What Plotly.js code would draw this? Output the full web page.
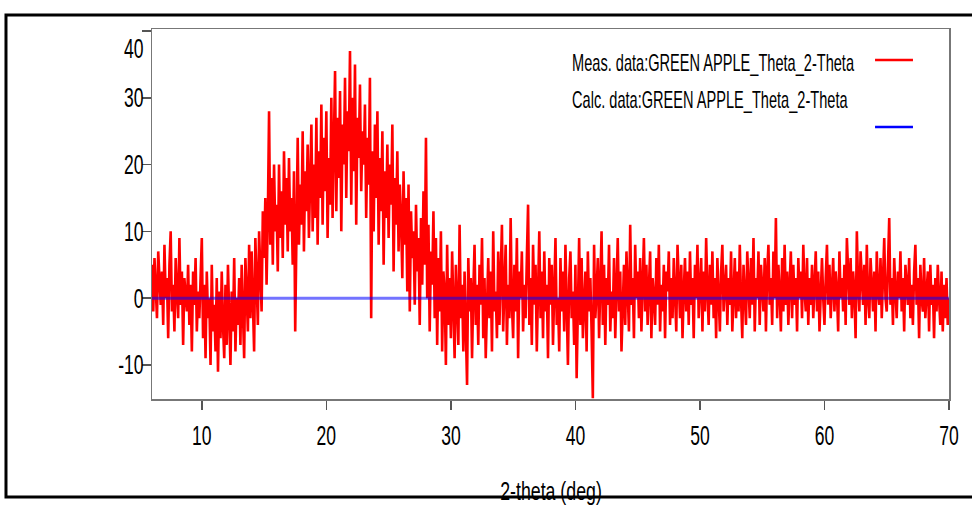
<!DOCTYPE html>
<html>
<head>
<meta charset="utf-8">
<script src="https://cdn.plot.ly/plotly-3.0.1.min.js"></script>
<style>html,body{margin:0;padding:0;background:#fff;}#chart{width:972px;height:506px;}</style>
</head>
<body>
<div id="chart"></div>
<script>
// Measured pattern, 2-theta from 6.0 to 70.0 deg, step 0.1 deg
const measStart = 6.0;
const measStep = 0.1;
const measY = [
  5, -2, 6, 1, -3, 7, 2, -1, 4, -4,
  8, 0, 3, -6, 5, 10, -2, 2, -5, 6,
  1, -3, 9, -1, 4, -7, 3, 0, -2, 5,
  -4, 2, -8, 4, -1, 6, -5, 1, -3, 3,
  9, -6, 2, -9, 4, -3, 0, -10, 5, -5,
  -1, -8, 3, -11, 1, -6, 4, -4, -9, 2,
  -7, 5, -3, -10, 1, -5, 6, -8, 0, -4,
  3, -7, 5, -2, -9, 6, 1, -5, 8, -3,
  7, -1, -8, 9, 2, -4, 10, 4, -2, 13,
  6, 15, 2, 12, 28, 8, 18, 5, 20, 10,
  14, 4, 20, 9, 16, 6, 22, 11, 18, 7,
  21, 10, 15, 5, 19, -5, 12, 24, 8, 17,
  11, 25, 7, 19, 13, 23, 9, 17, 26, 10,
  20, 12, 27, 8, 22, 15, 29, 11, 24, 16,
  28, 9, 21, 14, 30, 12, 25, 34, 13, 27,
  18, 31, 10, 26, 20, 33, 15, 28, 22, 37,
  14, 30, 19, 35, 11, 27, 21, 32, 16, 25,
  20, 29, 12, 24, 17, 33, -3, 22, 10, 26,
  15, 28, 8, 21, 13, 25, 5, 19, 12, 23,
  9, 20, 14, 26, 4, 18, 11, 22, 7, 17,
  12, 3, 19, 8, 15, 1, 17, -2, 13, 6,
  10, -1, 14, 4, 9, -4, 12, 2, 16, 5,
  24, 0, 11, -5, 7, 2, 13, -3, 9, -7,
  6, -2, 10, -8, 4, 1, -10, 8, -4, 3,
  -6, 7, -1, -9, 5, 0, -7, 11, -3, 2,
  -8, 4, -5, -13, 6, -2, 3, -9, 1, 8,
  -4, 2, -7, 5, -1, 9, -6, 3, -9, 0,
  6, -3, 4, -8, 10, -2, 1, -6, 7, -4,
  3, 11, -5, 0, 8, -7, 2, -3, 12, -1,
  -6, 5, -2, 9, -9, 4, 0, 7, -5, 2,
  -3, 6, 14, -4, 3, -7, 8, -1, 5, -8,
  1, 10, -3, 4, -6, 7, -2, 2, -9, 6,
  -1, 5, -7, 3, 9, -4, 0, -8, 6, -2,
  4, -5, 8, -1, -10, 3, 7, -3, 1, -7,
  5, -12, 2, 9, -4, 6, -6, 0, 4, -8,
  7, -2, 3, -5, -15, 8, -3, 1, 6, -6,
  2, 10, -4, 5, -7, 3, -1, 8, -5, 1,
  -3, 6, -6, 2, 9, -2, 4, -8, 0, 5,
  -4, 7, 1, -5, 11, -1, 3, -6, 8, 0,
  4, -3, 6, -5, 2, 9, -2, 5, -4, 1,
  7, -6, 3, 0, -4, 6, -1, 8, -5, 2,
  -2, 5, -6, 4, 1, 7, -4, 3, -3, 6,
  0, -5, 8, 2, -3, 5, -6, 1, 6, -2,
  4, -4, 7, -1, 3, -6, 5, 0, 8, -3,
  2, 6, -5, 4, -2, 9, 1, -4, 5, -1,
  7, -3, 3, -6, 6, 0, -5, 4, 8, -2,
  1, 5, -4, 3, -1, 7, -5, 2, 6, -3,
  4, -2, 8, 0, -6, 5, 1, -4, 7, 2,
  -3, 6, -1, 9, -5, 3, 0, 7, -4, 5,
  1, -2, 6, -5, 4, 8, -1, 3, -4, 7,
  0, 12, -3, 5, 1, -5, 6, -2, 8, -1,
  4, -4, 2, 7, -3, 5, -1, 3, -5, 6,
  0, 4, -3, 8, 1, -2, 6, -4, 3, -1,
  5, -3, 2, 7, -2, 4, -5, 1, 6, 0,
  -4, 3, 8, -1, 5, -3, 2, 6, -2, 4,
  1, -5, 7, 0, 3, -2, 5, -4, 9, 2,
  -1, 6, -3, 4, 1, -6, 10, 2, -2, 7,
  3, -1, 5, -4, 8, 0, -3, 6, 2, -2,
  4, -5, 7, 1, -1, 6, -3, 3, 9, 0,
  -2, 5, 12, -1, 3, -4, 6, 1, -3, 4,
  0, 7, -2, 3, -5, 5, 1, -1, 6, -3,
  2, -4, 4, 8, -1, 3, -6, 5, 0, -2,
  6, -3, 1, 4, -5, 5, -1, 2, -6, 3,
  -2, 5, 0, -4, 4, -5, 2, -3, 3, -4,
  0
];
// Calculated pattern (flat zero line)
const calcX = [6, 70];
const calcY = [0, 0];
// Text
const measName = "Meas. data:GREEN APPLE_Theta_2-Theta";
const calcName = "Calc. data:GREEN APPLE_Theta_2-Theta";
const xTitle = "2-theta (deg)";
const xTickVals = [10, 20, 30, 40, 50, 60, 70];
const xTickText = ["10", "20", "30", "40", "50", "60", "70"];
const yTickVals = [-10, 0, 10, 20, 30, 40];
const yTickText = ["-10", "0", "10", "20", "30", "40"];

const FONT = "Liberation Sans, Arial, sans-serif";

const traces = [
  {type: "scatter", mode: "lines", name: measName, x0: measStart, dx: measStep, y: measY,
   line: {color: "#ff0000", width: 2.6}, hoverinfo: "skip"},
  {type: "scatter", mode: "lines", name: calcName, x: calcX, y: calcY,
   line: {color: "rgba(0,0,255,0.55)", width: 3}, hoverinfo: "skip"}
];

const layout = {
  width: 972, height: 506,
  margin: {l: 152, r: 23, t: 29, b: 107},
  paper_bgcolor: "#ffffff", plot_bgcolor: "#ffffff",
  showlegend: false,
  font: {family: FONT, color: "#000", size: 24},
  xaxis: {
    range: [6, 70], tickvals: xTickVals, ticktext: xTickText, ticks: "outside", ticklen: 9, tickwidth: 1.5,
    tickcolor: "#555", showline: true, linecolor: "#777", linewidth: 1.5, mirror: true,
    showgrid: false, zeroline: false,
    tickfont: {family: FONT, size: 27, color: "#000"},
    title: {text: xTitle, font: {family: FONT, size: 25, color: "#000"}}
  },
  yaxis: {
    range: [-15.1, 40.3], tickvals: yTickVals, ticktext: yTickText, ticks: "outside", ticklen: 9, tickwidth: 1.5,
    tickcolor: "#555", showline: true, linecolor: "#777", linewidth: 1.5, mirror: true,
    showgrid: false, zeroline: false,
    tickfont: {family: FONT, size: 27, color: "#000"}
  },
  annotations: [
    {xref: "paper", yref: "paper", x: 0.527, y: 0.9081, xanchor: "left", yanchor: "middle",
     text: measName, showarrow: false, font: {family: FONT, size: 23, color: "#000"}},
    {xref: "paper", yref: "paper", x: 0.527, y: 0.8081, xanchor: "left", yanchor: "middle",
     text: calcName, showarrow: false, font: {family: FONT, size: 23, color: "#000"}}
  ],
  shapes: [
    {type: "line", xref: "paper", yref: "paper", x0: 0.9072, x1: 0.9548, y0: 0.9162, y1: 0.9162,
     line: {color: "#ff0000", width: 2.5}},
    {type: "line", xref: "paper", yref: "paper", x0: 0.9072, x1: 0.9548, y0: 0.7351, y1: 0.7351,
     line: {color: "#0000ff", width: 2.5}},
    {type: "rect", xref: "paper", yref: "paper", x0: -0.1832, x1: 1.04, y0: -0.2649, y1: 1.0378,
     line: {color: "#000", width: 3}, fillcolor: "rgba(0,0,0,0)", layer: "above"}
  ]
};

// Condense text horizontally (the reference uses a narrow face) and place it.
function condense(el, sx, mode, tx, ty) {
  const r = el.getBoundingClientRect();
  const bb = el.getBBox();
  const ax = mode === "end" ? r.right : mode === "middle" ? (r.left + r.right) / 2 : r.left;
  const lax = mode === "end" ? bb.x + bb.width : mode === "middle" ? bb.x + bb.width / 2 : bb.x;
  const dx = (tx == null) ? 0 : tx - ax;
  const dy = (ty == null) ? 0 : ty - (r.top + r.bottom) / 2;
  const old = el.getAttribute("transform") || "";
  el.setAttribute("transform", old + " translate(" + dx + "," + dy + ") translate(" + lax + ",0) scale(" + sx + ",1) translate(" + (-lax) + ",0)");
}

Plotly.newPlot("chart", traces, layout, {staticPlot: true, displayModeBar: false}).then(function () {
  document.querySelectorAll(".ytick text").forEach(function (t) {
    const isTop = t.textContent === "40";
    condense(t, 0.65, "end", 143.5, isTop ? 49 : null);
  });
  document.querySelectorAll(".xtick text").forEach(function (t) {
    condense(t, 0.65, "middle", null, 436);
  });
  document.querySelectorAll(".g-xtitle text").forEach(function (t) {
    condense(t, 0.71, "middle", 551, 491);
  });
  const ann = document.querySelectorAll(".annotation-text");
  ann.forEach(function (t, i) {
    condense(t, 0.634, "start", 572, i === 0 ? 63 : 100);
  });
});
</script>
</body>
</html>
